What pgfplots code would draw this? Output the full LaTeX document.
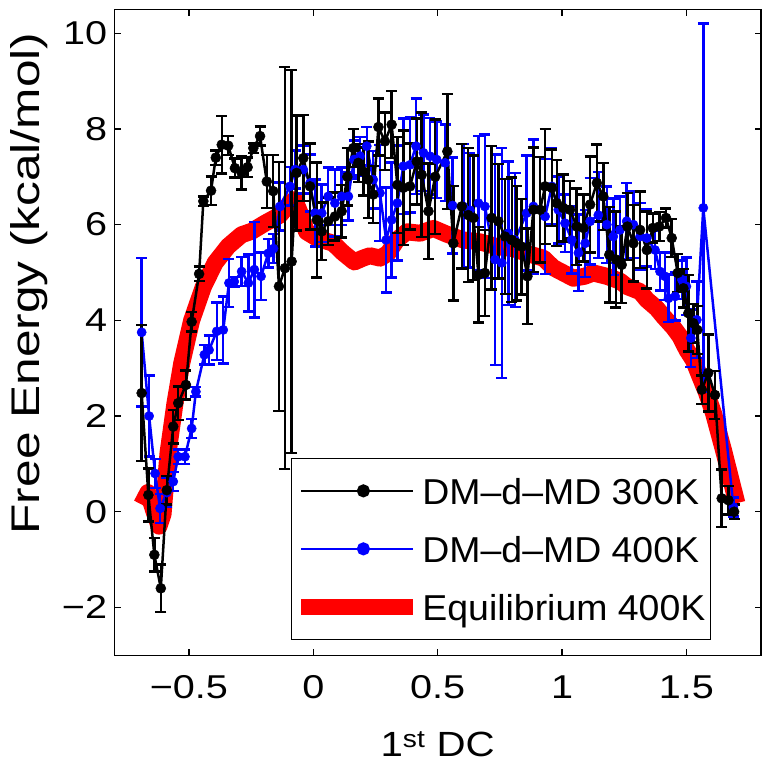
\documentclass[border=0pt]{standalone}
\usepackage{fontspec}
\setmainfont{Liberation Sans}
\usepackage{graphicx}
\usepackage{pgfplots}
\usepackage{pgfplotstable}
\pgfplotsset{compat=1.18}

\newcommand\TF{\fontsize{33bp}{36bp}\selectfont}
\newcommand\LF{\fontsize{36bp}{40bp}\selectfont}
\newcommand\T[1]{\scalebox{1.2}[1]{#1}}
\newcommand\LE[1]{\makebox[286bp][l]{\rule[-3.8bp]{0pt}{31.8bp}\scalebox{1.04}[1]{#1}}}

\pgfplotstableread{
x y e
-0.690 2.48 1.42
-0.663 0.35 0.55
-0.639 -0.90 0.35
-0.613 -1.60 0.50
-0.589 0.45 0.30
-0.563 1.78 0.35
-0.543 2.27 0.35
-0.512 2.65 0.30
-0.489 3.97 0.20
-0.459 4.97 0.15
-0.442 6.49 0.10
-0.411 6.71 0.30
-0.392 7.40 0.15
-0.368 7.67 0.60
-0.342 7.65 0.20
-0.315 7.18 0.20
-0.288 7.08 0.35
-0.264 7.20 0.20
-0.241 7.60 0.10
-0.214 7.85 0.20
-0.187 6.90 0.55
-0.161 6.70 0.75
-0.138 4.71 2.60
-0.114 5.09 4.20
-0.087 5.23 4.00
-0.067 7.08 1.20
-0.040 7.39 0.90
-0.013 6.80 0.90
0.014 6.10 1.20
0.034 5.86 0.60
0.060 6.07 0.50
0.087 6.17 0.50
0.114 6.28 0.55
0.137 7.00 0.60
0.161 7.60 0.40
0.181 7.29 0.40
0.201 7.11 0.50
0.221 6.94 0.80
0.241 6.63 0.60
0.262 8.04 0.60
0.288 7.74 0.60
0.315 8.09 0.70
0.338 6.83 1.00
0.362 6.77 1.20
0.389 6.80 0.90
0.416 7.32 0.90
0.436 7.04 1.30
0.463 6.28 1.00
0.490 7.00 1.20
0.539 7.53 1.20
0.563 5.61 1.20
0.597 6.38 1.30
0.623 6.20 1.40
0.644 6.14 1.30
0.664 4.95 1.00
0.690 4.99 0.90
0.717 6.14 1.50
0.744 6.07 1.20
0.771 5.75 1.20
0.798 5.68 1.30
0.818 5.61 1.20
0.838 5.54 1.00
0.861 4.92 1.00
0.885 6.31 1.30
0.912 6.31 1.10
0.932 6.80 1.20
0.959 6.77 0.80
0.979 6.45 0.90
1.005 6.35 0.70
1.032 6.31 0.60
1.059 5.96 0.80
1.086 5.93 0.70
1.113 6.42 1.00
1.140 6.87 0.80
1.166 6.59 0.70
1.190 5.37 1.00
1.217 5.27 1.00
1.240 5.16 0.80
1.263 5.96 0.70
1.287 5.61 0.80
1.314 5.89 0.80
1.341 5.47 0.80
1.365 5.93 0.30
1.391 5.96 0.30
1.418 6.14 0.20
1.441 5.72 0.40
1.465 4.99 0.40
1.488 4.67 0.40
1.508 4.15 0.80
1.528 3.94 0.40
1.544 3.80 0.50
1.562 2.55 0.30
1.588 2.90 0.80
1.615 2.44 0.50
1.642 0.28 0.60
1.669 0.24 0.30
1.692 0.00 0.15
}\blackdata

\pgfplotstableread{
x y e
-0.690 3.75 1.55
-0.660 2.00 0.85
-0.636 0.80 0.30
-0.616 0.07 0.30
-0.589 0.40 0.30
-0.563 0.63 0.20
-0.543 1.15 0.15
-0.516 1.15 0.15
-0.489 1.74 0.20
-0.472 2.51 0.10
-0.438 3.28 0.20
-0.419 3.38 0.30
-0.388 3.77 0.60
-0.362 3.80 0.70
-0.339 4.78 0.50
-0.318 4.81 0.10
-0.288 5.02 0.30
-0.261 4.78 0.60
-0.237 5.06 1.00
-0.210 4.92 0.50
-0.181 5.40 0.30
-0.160 5.50 0.30
-0.134 6.38 0.50
-0.094 6.80 0.40
-0.073 7.15 0.40
-0.040 7.15 0.50
-0.013 6.87 0.60
0.007 6.24 0.70
0.034 6.24 0.60
0.060 6.59 0.60
0.087 6.45 0.70
0.114 6.59 0.60
0.141 6.59 0.50
0.164 7.36 0.40
0.188 7.43 0.40
0.215 7.64 0.40
0.241 6.94 0.60
0.268 6.66 1.00
0.293 5.68 1.10
0.315 6.10 1.20
0.338 6.45 1.20
0.362 7.22 1.00
0.389 7.25 1.00
0.413 7.64 1.00
0.443 7.50 0.80
0.469 7.43 0.80
0.496 7.36 0.80
0.530 7.29 0.80
0.560 6.40 1.00
0.603 6.38 1.30
0.630 6.30 1.20
0.664 6.45 1.40
0.690 6.38 1.50
0.731 5.27 2.20
0.758 5.20 2.40
0.784 5.82 1.50
0.811 5.68 1.40
0.858 6.24 1.20
0.885 6.38 1.40
0.932 6.17 1.20
0.959 6.80 0.80
0.985 6.31 0.70
1.012 6.03 0.60
1.039 5.68 0.70
1.066 5.41 0.80
1.093 5.61 0.70
1.113 6.07 0.90
1.146 6.20 0.90
1.180 6.00 0.80
1.206 5.75 0.80
1.233 5.89 0.70
1.260 6.07 0.80
1.287 6.00 0.70
1.314 5.75 0.70
1.341 5.72 0.60
1.374 5.47 0.40
1.394 5.02 0.40
1.414 4.92 0.50
1.428 4.46 0.50
1.455 4.50 0.50
1.482 4.85 0.40
1.500 4.71 0.60
1.518 3.63 0.60
1.542 4.01 0.80
1.568 6.35 3.85
1.689 0.10 0.20
}\bluedata

\pgfplotstableread{
x y
-0.690 0.15
-0.665 0.40
-0.640 0.00
-0.620 -0.30
-0.604 -0.05
-0.584 1.23
-0.556 2.27
-0.529 3.10
-0.489 4.00
-0.442 4.70
-0.395 5.20
-0.342 5.55
-0.288 5.79
-0.248 5.86
-0.194 6.03
-0.134 6.20
-0.094 6.45
-0.075 6.52
-0.053 6.24
-0.027 5.85
0.014 5.72
0.080 5.61
0.120 5.41
0.165 5.22
0.200 5.30
0.228 5.35
0.268 5.30
0.300 5.40
0.336 5.68
0.376 5.85
0.429 5.82
0.483 5.92
0.537 5.80
0.603 5.68
0.670 5.64
0.738 5.54
0.804 5.50
0.871 5.38
0.925 5.30
0.965 5.10
1.046 4.88
1.090 4.92
1.126 4.99
1.180 4.92
1.233 4.82
1.260 4.71
1.314 4.60
1.341 4.43
1.381 4.25
1.408 4.08
1.448 3.85
1.475 3.66
1.502 3.38
1.528 3.17
1.555 2.82
1.580 2.50
1.609 2.06
1.649 1.29
1.683 0.59
1.703 0.18
}\reddata

\begin{document}
\begin{tikzpicture}
\useasboundingbox (-114.3bp,-110.7bp) rectangle (656.7bp,655.3bp);
\begin{axis}[
  at={(0,0)}, anchor=south west,
  scale only axis, width=646.7bp, height=646bp,
  xmin=-0.8, xmax=1.8, ymin=-3, ymax=10.5,
  xtick={-0.5,0,0.5,1,1.5},
  xticklabels={\T{−0.5},\T{0},\T{0.5},\T{1},\T{1.5}},
  ytick={-2,0,2,4,6,8,10},
  yticklabels={\T{−2},\T{0},\T{2},\T{4},\T{6},\T{8},\T{10}},
  tick align=inside, tick pos=both, major tick length=6.5bp,
  every tick/.style={black, line width=1.3bp},
  axis line style={line width=1.3bp},
  xticklabel style={font=\TF, inner sep=0pt},
  yticklabel style={font=\TF, inner sep=0pt},
  xticklabel shift=20bp, yticklabel shift=7bp,
  xlabel={\scalebox{1.15}[1]{1\textsuperscript{st} DC}},
  ylabel={\scalebox{1.24}[1]{Free Energy (kcal/mol)}},
  xlabel style={font=\fontsize{35bp}{40bp}\selectfont, inner sep=0pt,
    at={(axis description cs:0.5,-0.157)}, anchor=base},
  ylabel style={font=\fontsize{40bp}{44bp}\selectfont, inner sep=0pt,
    at={(axis description cs:-0.1613,0.5755)}, anchor=north},
  legend image code/.code={%
    \path (0bp,0bp) -- (112bp,0bp);
    \draw[mark repeat=2,mark phase=2] plot coordinates {(12bp,0bp) (62bp,0bp) (112bp,0bp)};},
  legend style={at={(axis description cs:0.9227,0.0237)}, anchor=south east,
    draw=black, line width=1.2bp, inner xsep=2bp, inner ysep=17.8bp,
    row sep=28.5bp, column sep=1bp, font=\LF, nodes={inner sep=0pt}},
  legend cell align=left,
]
\addplot[red, line width=17bp, line join=round, no markers, forget plot]
  table[x=x,y=y] {\reddata};
\addplot[blue, line width=2.5bp, mark=*, mark size=4.6bp,
  mark options={solid, fill=blue, draw=blue, line width=0.5bp}, forget plot,
  error bars/.cd, y dir=both, y explicit,
  error bar style={line width=2.5bp, blue},
  error mark options={rotate=90, line width=2.5bp, mark size=5.5bp, blue}]
  table[x=x,y=y,y error=e] {\bluedata};
\addplot[black, line width=2.5bp, mark=*, mark size=5bp,
  mark options={solid, fill=black, draw=black, line width=0.5bp}, forget plot,
  error bars/.cd, y dir=both, y explicit,
  error bar style={line width=2.5bp, black},
  error mark options={rotate=90, line width=2.5bp, mark size=5.5bp, black}]
  table[x=x,y=y,y error=e] {\blackdata};
\addlegendimage{black, line width=2.5bp, mark=*, mark size=5.3bp, mark options={solid, fill=black}}
\addlegendentry{\LE{DM–d–MD 300K}}
\addlegendimage{blue, line width=2.5bp, mark=*, mark size=5.3bp, mark options={solid, fill=blue}}
\addlegendentry{\LE{DM–d–MD 400K}}
\addlegendimage{red, line width=16bp, no markers}
\addlegendentry{\LE{Equilibrium 400K}}
\end{axis}
\end{tikzpicture}
\end{document}
